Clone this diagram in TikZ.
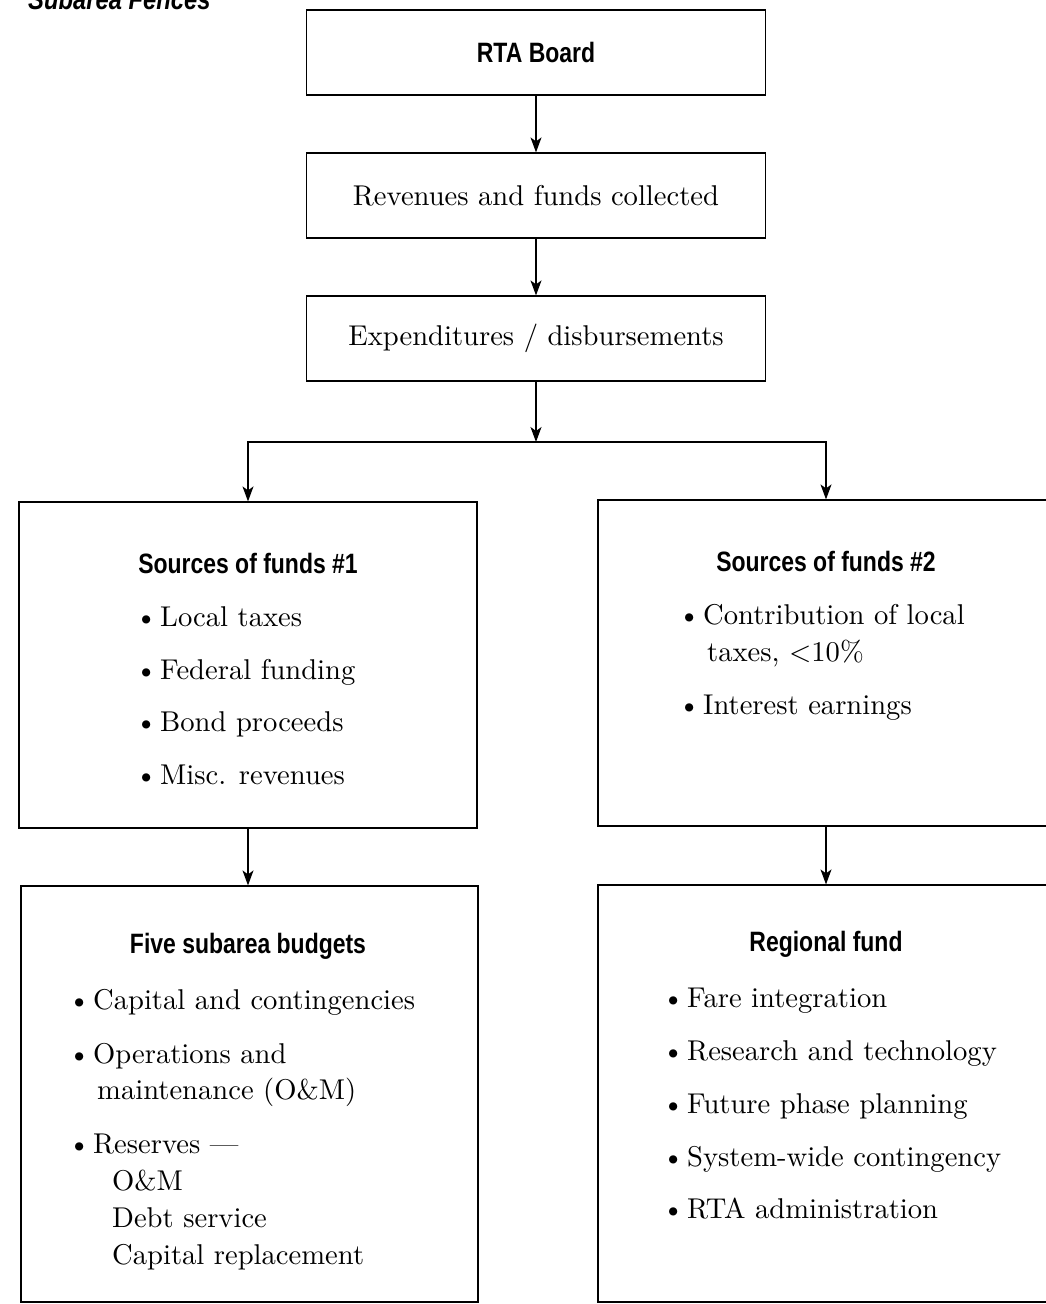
\documentclass[tikz,border=0pt]{standalone}
\usepackage{fontspec}
\setmainfont{lmroman10-regular.otf}
\newfontfamily\hfont[FakeStretch=0.82]{Liberation Sans}
\usetikzlibrary{arrows.meta}
\newcommand\bul{\makebox[25pt][l]{\textbullet}}
\tikzset{
  box/.style={draw, line width=1.2pt, inner sep=0pt},
  head/.style={font=\hfont\bfseries\fontsize{28}{32}\selectfont, inner sep=0pt},
  body/.style={font=\fontsize{28.6}{32}\selectfont, inner sep=0pt, anchor=base west},
  arr/.style={line width=1.2pt, -{Stealth[length=15pt,width=11pt,inset=4pt]}},
}
\begin{document}
\begin{tikzpicture}[x=1pt,y=-1pt]
\useasboundingbox (0,0) rectangle (1045,1304);
\node[font=\hfont\bfseries\itshape\fontsize{29}{32}\selectfont, inner sep=0pt, anchor=base west] (title) at (28,9) {Subarea Fences};

\node[box, head, minimum width=459pt, minimum height=85pt] (rta) at (536,52.5) {RTA Board};
\node[box, body, anchor=center, minimum width=459pt, minimum height=85pt] (rev) at (536,195.5) {Revenues and funds collected};
\node[box, body, anchor=center, minimum width=459pt, minimum height=85pt] (exp) at (536,338.5) {Expenditures / disbursements};

\node[box, minimum width=458pt, minimum height=326pt] (s1) at (248,665) {};
\node[box, minimum width=456pt, minimum height=326pt] (s2) at (826,663) {};
\node[box, minimum width=457pt, minimum height=416pt] (b1) at (249.5,1094) {};
\node[box, minimum width=456pt, minimum height=417pt] (b2) at (826,1093.5) {};

\coordinate (split) at (536,442);
\draw[arr] (rta) -- (rev);
\draw[arr] (rev) -- (exp);
\draw[arr] (exp.south) -- (split);
\draw[arr] (split) -| (s1.north);
\draw[arr] (split) -| (s2.north);
\draw[arr] (s1.south) -- (s1.south |- b1.north);
\draw[arr] (s2.south) -- (s2.south |- b2.north);

% Sources of funds #1
\node[head] (s1t) at (248,563) {Sources of funds \#1};
\node[body] (s1a) at (135,626) {\bul Local taxes};
\node[body] (s1b) at (135,679) {\bul Federal funding};
\node[body] (s1c) at (135,731) {\bul Bond proceeds};
\node[body] (s1d) at (135,784) {\bul Misc. revenues};

% Sources of funds #2
\node[head] (s2t) at (826,561) {Sources of funds \#2};
\node[body] (s2a) at (678,624) {\bul Contribution of local};
\node[body] (s2b) at (707,661) {taxes, <10\%};
\node[body] (s2c) at (678,714) {\bul Interest earnings};

% Five subarea budgets
\node[head] (b1t) at (248,946) {Five subarea budgets};
\node[body] (b1a) at (68,1009) {\bul Capital and contingencies};
\node[body] (b1b) at (68,1063) {\bul Operations and};
\node[body] (b1c) at (97,1099) {maintenance (O\&M)};
\node[body] (b1d) at (68,1153) {\bul Reserves —};
\node[body] (b1e) at (112,1190) {O\&M};
\node[body] (b1f) at (112,1227) {Debt service};
\node[body] (b1g) at (112,1264) {Capital replacement};

% Regional fund
\node[head] (b2t) at (826,944) {Regional fund};
\node[body] (b2a) at (662,1007) {\bul Fare integration};
\node[body] (b2b) at (662,1060) {\bul Research and technology};
\node[body] (b2c) at (662,1113) {\bul Future phase planning};
\node[body] (b2d) at (662,1166) {\bul System-wide contingency};
\node[body] (b2e) at (662,1218) {\bul RTA administration};
\end{tikzpicture}
\end{document}
